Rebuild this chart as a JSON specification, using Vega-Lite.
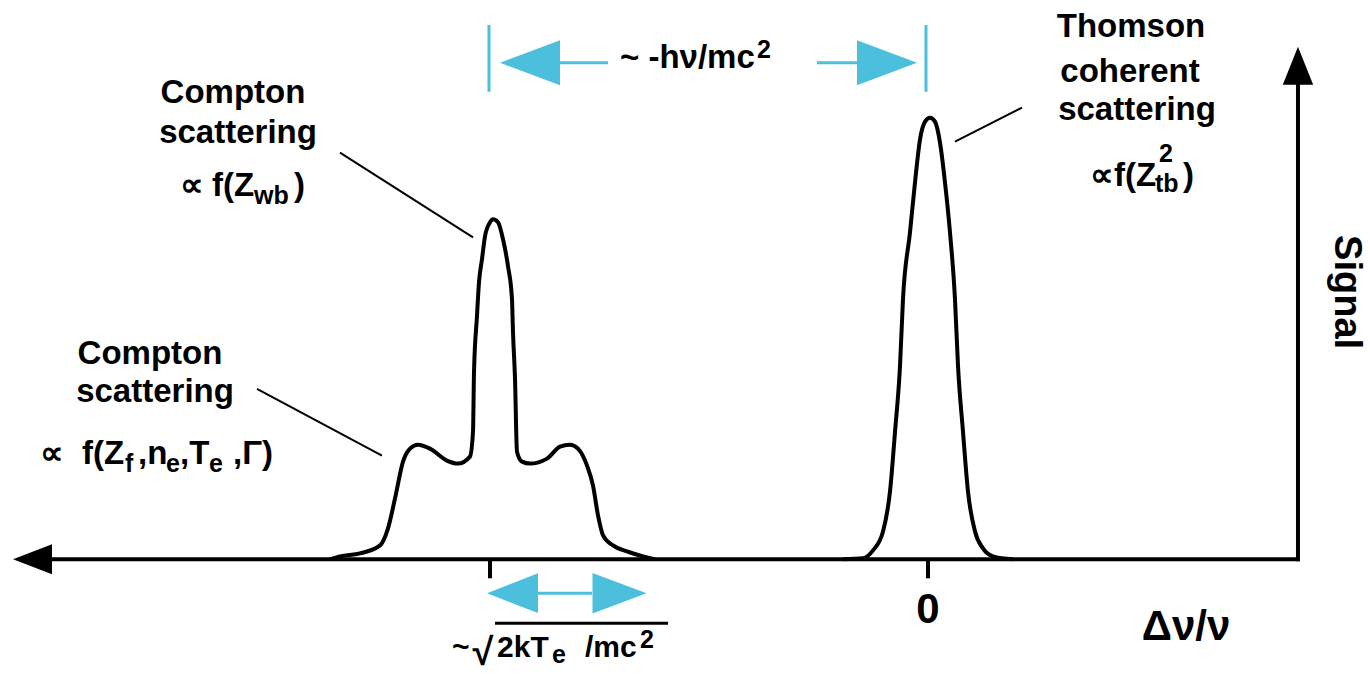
{
  "$schema": "https://vega.github.io/schema/vega-lite/v6.json",
  "width": 1370,
  "height": 674,
  "autosize": {"type": "fit", "contains": "padding"},
  "padding": 0,
  "background": "white",
  "config": {"view": {"stroke": null}, "text": {"font": "Liberation Sans", "fontWeight": "bold", "fill": "black"}},
  "datasets": {
    "compton": [
      {"x": -1.3653, "y": 0}, {"x": -1.3425, "y": 0.0068}, {"x": -1.2968, "y": 0.0135}, {"x": -1.2511, "y": 0.0316},
      {"x": -1.2329, "y": 0.07}, {"x": -1.2169, "y": 0.1377}, {"x": -1.1986, "y": 0.2212}, {"x": -1.1826, "y": 0.2506},
      {"x": -1.1644, "y": 0.2596}, {"x": -1.137, "y": 0.2506}, {"x": -1.0982, "y": 0.2235}, {"x": -1.0731, "y": 0.2167},
      {"x": -1.0457, "y": 0.2325}, {"x": -1.0388, "y": 0.2889}, {"x": -1.0365, "y": 0.4244}, {"x": -1.0297, "y": 0.5508},
      {"x": -1.0251, "y": 0.6275}, {"x": -1.0183, "y": 0.6795}, {"x": -1.0114, "y": 0.7314}, {"x": -1.0, "y": 0.763},
      {"x": -0.9932, "y": 0.7698}, {"x": -0.9817, "y": 0.763}, {"x": -0.9703, "y": 0.7246}, {"x": -0.9589, "y": 0.6637},
      {"x": -0.9498, "y": 0.5892}, {"x": -0.9475, "y": 0.5147}, {"x": -0.9429, "y": 0.4086}, {"x": -0.9384, "y": 0.2438},
      {"x": -0.9269, "y": 0.2212}, {"x": -0.9087, "y": 0.2167}, {"x": -0.8699, "y": 0.228}, {"x": -0.8402, "y": 0.2551},
      {"x": -0.8174, "y": 0.2596}, {"x": -0.7991, "y": 0.2506}, {"x": -0.7785, "y": 0.2122}, {"x": -0.7648, "y": 0.167},
      {"x": -0.7534, "y": 0.0993}, {"x": -0.742, "y": 0.0542}, {"x": -0.7192, "y": 0.0316}, {"x": -0.6872, "y": 0.0181},
      {"x": -0.6507, "y": 0.0068}, {"x": -0.6233, "y": 0}
    ],
    "thomson": [
      {"x": -0.1941, "y": 0}, {"x": -0.1484, "y": 0.0023}, {"x": -0.1256, "y": 0.0203}, {"x": -0.1027, "y": 0.0632},
      {"x": -0.0868, "y": 0.1535}, {"x": -0.0753, "y": 0.2889}, {"x": -0.0639, "y": 0.4379}, {"x": -0.0571, "y": 0.5892},
      {"x": -0.0411, "y": 0.7404}, {"x": -0.0297, "y": 0.8533}, {"x": -0.0183, "y": 0.9503}, {"x": -0.0068, "y": 0.991},
      {"x": 0.0046, "y": 1.0}, {"x": 0.016, "y": 0.991}, {"x": 0.0274, "y": 0.9436}, {"x": 0.0388, "y": 0.8533},
      {"x": 0.0502, "y": 0.7404}, {"x": 0.0616, "y": 0.5892}, {"x": 0.0685, "y": 0.4379}, {"x": 0.0799, "y": 0.2889},
      {"x": 0.0913, "y": 0.1535}, {"x": 0.1073, "y": 0.0632}, {"x": 0.1256, "y": 0.0248}, {"x": 0.1484, "y": 0.0068},
      {"x": 0.1941, "y": 0}
    ],
    "axisLines": [
      {"x": -2.0274, "y": 0, "x2": 0.8447, "y2": 0},
      {"x": 0.8447, "y": 0, "x2": 0.8447, "y2": 1.0858}
    ],
    "ticks": [
      {"x": -1, "y": 0, "x2": -1, "y2": -0.0429},
      {"x": 0, "y": 0, "x2": 0, "y2": -0.0429}
    ],
    "leaders": [
      {"x": -1.3425, "y": 0.921, "x2": -1.0388, "y2": 0.7291},
      {"x": -1.532, "y": 0.386, "x2": -1.2466, "y2": 0.2348},
      {"x": 0.0616, "y": 0.9458, "x2": 0.2146, "y2": 1.0226}
    ],
    "cyanLines": [
      {"x": -1.0023, "y": 1.2099, "x2": -1.0023, "y2": 1.0587},
      {"x": -0.0046, "y": 1.2099, "x2": -0.0046, "y2": 1.0587},
      {"x": -0.8402, "y": 1.1242, "x2": -0.7306, "y2": 1.1242},
      {"x": -0.2534, "y": 1.1242, "x2": -0.1621, "y2": 1.1242},
      {"x": -0.8904, "y": -0.0767, "x2": -0.7671, "y2": -0.0767}
    ],
    "overline": [
      {"x": -0.9886, "y": -0.1445, "x2": -0.5936, "y2": -0.1445}
    ],
    "arrowLeftBlack": [{"x": -2.0445, "y": 0}],
    "arrowUpBlack": [{"x": 0.8447, "y": 1.1174}],
    "cyanLeftTop": [{"x": -0.9087, "y": 1.1242}],
    "cyanRightTop": [{"x": -0.0936, "y": 1.1242}],
    "cyanLeftBottom": [{"x": -0.9486, "y": -0.0767}],
    "cyanRightBottom": [{"x": -0.7043, "y": -0.0767}],
    "words": [
      {"x": -1.5868, "y": 1.0339, "t": "Compton"},
      {"x": -1.5753, "y": 0.9436, "t": "scattering"},
      {"x": -1.7763, "y": 0.4424, "t": "Compton"},
      {"x": -1.7648, "y": 0.3567, "t": "scattering"},
      {"x": 0.4635, "y": 1.1828, "t": "Thomson"},
      {"x": 0.4612, "y": 1.0813, "t": "coherent"},
      {"x": 0.4772, "y": 0.9955, "t": "scattering"}
    ],
    "formula": [
      {"x": -1.7078, "y": 0.8217, "t": "∝"},
      {"x": -1.6347, "y": 0.8217, "t": "f(Z"},
      {"x": -1.4475, "y": 0.8217, "t": ")"},
      {"x": -2.0274, "y": 0.2167, "t": "∝"},
      {"x": -1.9315, "y": 0.2167, "t": "f(Z"},
      {"x": -1.8037, "y": 0.2167, "t": ",n"},
      {"x": -1.7078, "y": 0.2167, "t": ",T"},
      {"x": -1.5868, "y": 0.2167, "t": ",Γ)"},
      {"x": 0.3699, "y": 0.8442, "t": "∝"},
      {"x": 0.4247, "y": 0.8442, "t": "f(Z"},
      {"x": 0.5822, "y": 0.8442, "t": ")"},
      {"x": -0.7032, "y": 1.1129, "t": "~ -hν/mc"}
    ],
    "small": [
      {"x": -1.5388, "y": 0.8036, "t": "wb"},
      {"x": -1.8333, "y": 0.1986, "t": "f"},
      {"x": -1.7397, "y": 0.1986, "t": "e"},
      {"x": -1.6416, "y": 0.1986, "t": "e"},
      {"x": 0.5274, "y": 0.9007, "t": "2"},
      {"x": 0.5183, "y": 0.8307, "t": "tb"},
      {"x": -0.3904, "y": 1.1354, "t": "2"},
      {"x": -0.8584, "y": -0.2348, "t": "e"},
      {"x": -0.6575, "y": -0.2009, "t": "2"}
    ],
    "bottomFormula": [
      {"x": -1.0868, "y": -0.2212, "t": "~"},
      {"x": -0.984, "y": -0.2212, "t": "2kT"},
      {"x": -0.7831, "y": -0.2212, "t": "/mc"}
    ],
    "big": [
      {"x": 0, "y": -0.1445, "t": "0"},
      {"x": 0.589, "y": -0.1828, "t": "Δν/ν"}
    ],
    "radical": [{"x": -1.016, "y": -0.2393, "t": "√"}],
    "signal": [{"x": 0.9543, "y": 0.605, "t": "Signal"}]
  },
  "encoding": {
    "x": {"field": "x", "type": "quantitative", "axis": null, "scale": {"domain": [-2.11872, 1.00913], "nice": false, "zero": false}},
    "y": {"field": "y", "type": "quantitative", "axis": null, "scale": {"domain": [-0.25508, 1.26637], "nice": false, "zero": false}}
  },
  "layer": [
    {"data": {"name": "axisLines"}, "mark": {"type": "rule", "stroke": "black", "strokeWidth": 4, "strokeCap": "square"}, "encoding": {"x2": {"field": "x2"}, "y2": {"field": "y2"}}},
    {"data": {"name": "ticks"}, "mark": {"type": "rule", "stroke": "black", "strokeWidth": 4}, "encoding": {"x2": {"field": "x2"}, "y2": {"field": "y2"}}},
    {"data": {"name": "leaders"}, "mark": {"type": "rule", "stroke": "black", "strokeWidth": 2}, "encoding": {"x2": {"field": "x2"}, "y2": {"field": "y2"}}},
    {"data": {"name": "cyanLines"}, "mark": {"type": "rule", "stroke": "#4cbfdc", "strokeWidth": 3}, "encoding": {"x2": {"field": "x2"}, "y2": {"field": "y2"}}},
    {"data": {"name": "overline"}, "mark": {"type": "rule", "stroke": "black", "strokeWidth": 3}, "encoding": {"x2": {"field": "x2"}, "y2": {"field": "y2"}}},
    {"data": {"name": "compton"}, "mark": {"type": "line", "stroke": "black", "strokeWidth": 4, "interpolate": "monotone", "strokeJoin": "round"}},
    {"data": {"name": "thomson"}, "mark": {"type": "line", "stroke": "black", "strokeWidth": 4, "interpolate": "monotone", "strokeJoin": "round"}},
    {"data": {"name": "arrowLeftBlack"}, "mark": {"type": "point", "shape": "M-1,0L1,-0.77L1,0.77Z", "size": 1521, "filled": true, "fill": "black", "opacity": 1, "strokeWidth": 0}},
    {"data": {"name": "arrowUpBlack"}, "mark": {"type": "point", "shape": "M0,-1L0.8,1L-0.8,1Z", "size": 1444, "filled": true, "fill": "black", "opacity": 1, "strokeWidth": 0}},
    {"data": {"name": "cyanLeftTop"}, "mark": {"type": "point", "shape": "M-1,0L1,-0.75L1,0.75Z", "size": 3600, "filled": true, "fill": "#4cbfdc", "opacity": 1, "strokeWidth": 0}},
    {"data": {"name": "cyanRightTop"}, "mark": {"type": "point", "shape": "M1,0L-1,-0.75L-1,0.75Z", "size": 3600, "filled": true, "fill": "#4cbfdc", "opacity": 1, "strokeWidth": 0}},
    {"data": {"name": "cyanLeftBottom"}, "mark": {"type": "point", "shape": "M-1,0L1,-0.78L1,0.78Z", "size": 2601, "filled": true, "fill": "#4cbfdc", "opacity": 1, "strokeWidth": 0}},
    {"data": {"name": "cyanRightBottom"}, "mark": {"type": "point", "shape": "M1,0L-1,-0.75L-1,0.75Z", "size": 2916, "filled": true, "fill": "#4cbfdc", "opacity": 1, "strokeWidth": 0}},
    {"data": {"name": "words"}, "mark": {"type": "text", "align": "center", "baseline": "alphabetic", "fontSize": 33}, "encoding": {"text": {"field": "t"}}},
    {"data": {"name": "formula"}, "mark": {"type": "text", "align": "left", "baseline": "alphabetic", "fontSize": 33}, "encoding": {"text": {"field": "t"}}},
    {"data": {"name": "small"}, "mark": {"type": "text", "align": "left", "baseline": "alphabetic", "fontSize": 25}, "encoding": {"text": {"field": "t"}}},
    {"data": {"name": "bottomFormula"}, "mark": {"type": "text", "align": "left", "baseline": "alphabetic", "fontSize": 30}, "encoding": {"text": {"field": "t"}}},
    {"data": {"name": "big"}, "mark": {"type": "text", "align": "center", "baseline": "alphabetic", "fontSize": 42}, "encoding": {"text": {"field": "t"}}},
    {"data": {"name": "radical"}, "mark": {"type": "text", "align": "center", "baseline": "alphabetic", "fontSize": 38}, "encoding": {"text": {"field": "t"}}},
    {"data": {"name": "signal"}, "mark": {"type": "text", "align": "center", "baseline": "middle", "fontSize": 38, "angle": 90}, "encoding": {"text": {"field": "t"}}}
  ]
}
